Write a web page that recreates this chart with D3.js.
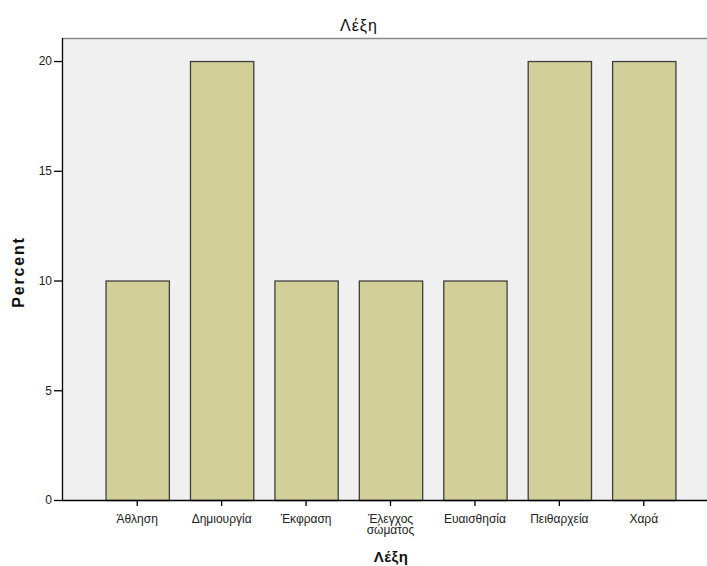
<!DOCTYPE html>
<html><head><meta charset="utf-8">
<script src="https://cdn.jsdelivr.net/npm/d3@7"></script>
<style>body{margin:0;background:#fff}svg{display:block}text{font-family:"Liberation Sans",Arial,sans-serif}</style>
</head><body><svg id="c" width="707" height="566"></svg>
<script>
const categories = ["Άθληση","Δημιουργία","Έκφραση","Έλεγχος σώματος","Ευαισθησία","Πειθαρχεία","Χαρά"];
const labelLines = [["Άθληση"],["Δημιουργία"],["Έκφραση"],["Έλεγχος","σώματος"],["Ευαισθησία"],["Πειθαρχεία"],["Χαρά"]];
const percents = [10,20,10,10,10,20,20];
const yTicks = [0,5,10,15,20];
const title = "Λέξη", xTitle = "Λέξη", yTitle = "Percent";

(function(){
const svg = d3.select("#c");
const pL = 62, pR = 707, pT = 38, pB = 500;
const x = d3.scaleBand().domain(categories).range([95, 686]).paddingInner(0.25).paddingOuter(0.125);
const y = d3.scaleLinear().domain([0, 21.05]).range([pB, pT]);

svg.append("rect").attr("x", pL).attr("y", pT).attr("width", pR-pL).attr("height", pB-pT).attr("fill", "#f0f0f0");
svg.append("line").attr("x1", pL).attr("x2", pR).attr("y1", pT+0.5).attr("y2", pT+0.5).attr("stroke", "#8a8a8a").attr("stroke-width", 1.5);

svg.selectAll(".bar").data(percents).enter().append("rect")
  .attr("x", (d,i) => x(categories[i]) + 0.5)
  .attr("y", d => y(d) + 0.5)
  .attr("width", x.bandwidth())
  .attr("height", d => y(0) - y(d))
  .attr("fill", "#d3cf98").attr("stroke", "#3f3f3f").attr("stroke-width", 1.3);

const ya = svg.append("g").attr("transform", `translate(${pL},0)`)
  .call(d3.axisLeft(y).tickValues(yTicks).tickSize(8).tickPadding(2).tickFormat(d3.format("d")));
ya.select(".domain").attr("d", `M0.5,${pT}V${pB+0.5}`).attr("stroke", "#000").attr("stroke-width", 1.3);
ya.selectAll(".tick line").attr("stroke", "#000").attr("stroke-width", 1.3);
ya.selectAll("text").attr("font-size", 12).attr("fill", "#222").attr("font-family", "Liberation Sans, Arial, sans-serif");

const xa = svg.append("g").attr("transform", `translate(0,${pB})`)
  .call(d3.axisBottom(x).tickSize(6).tickPadding(4).tickFormat(""));
xa.select(".domain").attr("d", `M${pL},0.5H${pR}`).attr("stroke", "#000").attr("stroke-width", 1.3);
xa.selectAll(".tick line").attr("stroke", "#000").attr("stroke-width", 1.3);
xa.selectAll(".tick").each(function(d, i) {
  const t = d3.select(this).append("text").attr("fill", "#222").attr("font-size", 12)
    .attr("text-anchor", "middle").attr("y", 23).attr("font-family", "Liberation Sans, Arial, sans-serif");
  labelLines[i].forEach((ln, j) => t.append("tspan").attr("x", 0).attr("dy", j ? 11 : 0).text(ln));
});

svg.append("text").attr("x", 359).attr("y", 31).attr("text-anchor", "middle").attr("font-size", 16).attr("letter-spacing", 1).attr("fill", "#111").text(title);
svg.append("text").attr("x", 391).attr("y", 562).attr("text-anchor", "middle").attr("font-size", 15).attr("font-weight", "bold").attr("letter-spacing", 0.5).attr("fill", "#111").text(xTitle);
svg.append("text").attr("transform", "translate(24,272) rotate(-90)").attr("text-anchor", "middle").attr("font-size", 16).attr("font-weight", "bold").attr("letter-spacing", 1.8).attr("fill", "#111").text(yTitle);
})();
</script></body></html>
